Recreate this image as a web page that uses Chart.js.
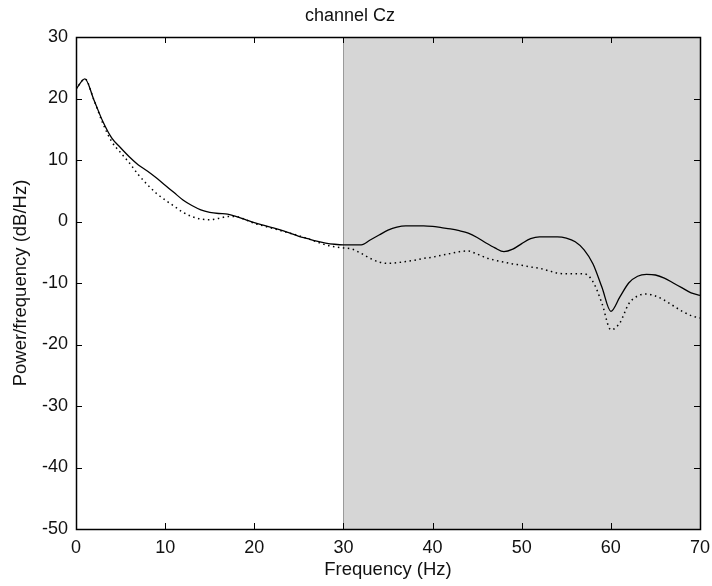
<!DOCTYPE html>
<html>
<head>
<meta charset="utf-8">
<script src="https://cdn.jsdelivr.net/npm/chart.js@4/dist/chart.umd.min.js"></script>
<style>
  html, body { margin: 0; padding: 0; background: #fff; }
  #wrap { width: 712px; height: 586px; }
</style>
</head>
<body>
<div id="wrap"><canvas id="psdChart" width="712" height="586"></canvas></div>
<script>
// frequency bins (Hz)
const freqs = [0,1,2,3,4,5,6,7,8,9,10,11,12,13,14,15,16,17,18,19,20,21,22,23,24,25,26,27,28,29,30,
  31,32,33,34,35,36,37,38,39,40,41,42,43,44,45,46,47,48,49,50,51,52,53,54,55,56,57,58,59,60,
  61,62,63,64,65,66,67,68,69,70];

// solid trace (dB/Hz)
const solidPower = [21.5,23.2,19.8,16.3,13.6,12.0,10.5,9.2,8.2,7.1,5.9,4.7,3.5,2.6,1.9,1.5,1.3,1.2,0.8,0.3,-0.2,
  -0.6,-1.0,-1.4,-1.9,-2.4,-2.8,-3.2,-3.5,-3.7,-3.8,-3.8,-3.8,-3.0,-2.2,-1.4,-0.9,-0.7,-0.7,-0.7,-0.8,
  -1.0,-1.2,-1.5,-1.9,-2.6,-3.5,-4.3,-4.9,-4.5,-3.6,-2.8,-2.5,-2.5,-2.5,-2.7,-3.3,-4.6,-6.9,-10.7,-14.6,
  -12.3,-10.0,-8.9,-8.6,-8.7,-9.2,-10.0,-10.8,-11.6,-12.0];

// dotted trace (dB/Hz)
const dottedPower = [21.5,23.2,19.8,16.0,13.0,11.2,9.5,7.6,6.0,4.6,3.5,2.5,1.5,0.8,0.4,0.3,0.5,0.8,0.8,0.3,-0.3,
  -0.7,-1.1,-1.5,-1.9,-2.3,-2.8,-3.3,-3.8,-4.1,-4.3,-4.5,-5.2,-6.0,-6.6,-6.8,-6.7,-6.5,-6.3,-6.0,-5.8,
  -5.5,-5.2,-4.9,-4.8,-5.3,-5.9,-6.3,-6.6,-6.9,-7.1,-7.4,-7.6,-8.0,-8.4,-8.5,-8.5,-8.5,-9.8,-13.3,-17.6,
  -16.5,-13.4,-12.1,-11.8,-12.1,-12.8,-13.7,-14.6,-15.3,-15.7];

// shaded band
const bandStart = 30;
const bandEnd = 70;

const FONT = '"Liberation Sans", Arial, sans-serif';

const toPoints = (vals) => vals.map((v, i) => ({ x: freqs[i], y: v }));

// grey band behind the traces
const bandPlugin = {
  id: 'band',
  beforeDatasetsDraw(chart) {
    const { ctx, chartArea, scales } = chart;
    const x0 = scales.x.getPixelForValue(bandStart);
    const x1 = scales.x.getPixelForValue(bandEnd);
    ctx.save();
    ctx.fillStyle = '#d6d6d6';
    ctx.fillRect(x0, chartArea.top, x1 - x0, chartArea.bottom - chartArea.top);
    ctx.strokeStyle = '#9a9a9a';
    ctx.lineWidth = 1;
    ctx.beginPath();
    ctx.moveTo(Math.round(x0) + 0.5, chartArea.top);
    ctx.lineTo(Math.round(x0) + 0.5, chartArea.bottom);
    ctx.stroke();
    ctx.restore();
  }
};

// matlab style box with inward ticks on all four sides
const boxPlugin = {
  id: 'box',
  afterDatasetsDraw(chart) {
    const { ctx, chartArea: a, scales } = chart;
    const len = 6;
    ctx.save();
    ctx.strokeStyle = '#000';
    ctx.lineWidth = 1;
    ctx.beginPath();
    scales.x.ticks.forEach(t => {
      const px = Math.round(scales.x.getPixelForValue(t.value)) + 0.5;
      ctx.moveTo(px, a.bottom); ctx.lineTo(px, a.bottom - len);
      ctx.moveTo(px, a.top); ctx.lineTo(px, a.top + len);
    });
    scales.y.ticks.forEach(t => {
      const py = Math.round(scales.y.getPixelForValue(t.value)) + 0.5;
      ctx.moveTo(a.left, py); ctx.lineTo(a.left + len, py);
      ctx.moveTo(a.right, py); ctx.lineTo(a.right - len, py);
    });
    ctx.stroke();
    ctx.lineWidth = 1.5;
    ctx.strokeRect(Math.round(a.left) + 0.5, Math.round(a.top) + 0.5,
      Math.round(a.right - a.left), Math.round(a.bottom - a.top));
    ctx.restore();
  }
};

new Chart(document.getElementById('psdChart'), {
  type: 'line',
  data: {
    datasets: [{
      label: 'solid',
      data: toPoints(solidPower),
      borderColor: '#000',
      borderWidth: 1.3,
      pointRadius: 0,
      cubicInterpolationMode: 'monotone',
      fill: false
    }, {
      label: 'dotted',
      data: toPoints(dottedPower),
      borderColor: '#000',
      borderWidth: 1.5,
      borderDash: [1.5, 3.5],
      pointRadius: 0,
      cubicInterpolationMode: 'monotone',
      fill: false
    }]
  },
  options: {
    responsive: false,
    animation: false,
    layout: { padding: { left: 0, right: 12, top: 0, bottom: 0 } },
    plugins: {
      legend: { display: false },
      tooltip: { enabled: false },
      title: {
        display: true,
        text: 'channel Cz',
        color: '#111',
        font: { family: FONT, size: 18, weight: 'normal', lineHeight: 1.2 },
        padding: { top: 5, bottom: 10.4 }
      }
    },
    scales: {
      x: {
        type: 'linear',
        min: 0,
        max: 70,
        ticks: { stepSize: 10, color: '#111', padding: 8, font: { family: FONT, size: 18 } },
        grid: { display: false, drawTicks: false },
        border: { display: false },
        title: {
          display: true,
          text: 'Frequency (Hz)',
          color: '#111',
          font: { family: FONT, size: 18.5 },
          padding: { top: 0, bottom: 5 }
        },
        afterFit(scale) {
          scale.height = 57;
          scale.paddingLeft = 0;
          scale.paddingRight = 0;
        }
      },
      y: {
        min: -50,
        max: 30,
        ticks: { stepSize: 10, color: '#111', padding: 8, font: { family: FONT, size: 18 } },
        grid: { display: false, drawTicks: false },
        border: { display: false },
        title: {
          display: true,
          text: 'Power/frequency (dB/Hz)',
          color: '#111',
          font: { family: FONT, size: 18.5 },
          padding: { top: 10, bottom: 4 }
        },
        afterFit(scale) {
          scale.width = 76;
          scale.paddingTop = 0;
          scale.paddingBottom = 0;
        }
      }
    }
  },
  plugins: [bandPlugin, boxPlugin]
});
</script>
</body>
</html>
